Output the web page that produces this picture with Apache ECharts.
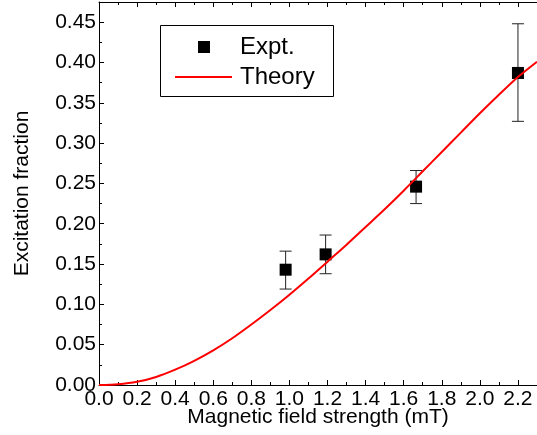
<!DOCTYPE html>
<html>
<head>
    <meta charset="utf-8">
    <title>Excitation fraction</title>
    <script src="https://cdn.jsdelivr.net/npm/echarts@6/dist/echarts.min.js"></script>
    <style>
        body { margin: 0; background: #fff; }
    </style>
</head>
<body>
<div id="main" style="width:537px;height:435px;"></div>
<script type="text/javascript">
    // measured points (mT, fraction) and their error bar ends
    var exptField = [0.98, 1.19, 1.665, 2.2];
    var exptValue = [0.143, 0.162, 0.246, 0.387];
    var exptLow   = [0.119, 0.138, 0.225, 0.327];
    var exptHigh  = [0.166, 0.186, 0.266, 0.448];

    // theory curve
    var theoryField = [0.0, 0.1, 0.2, 0.3, 0.4, 0.5, 0.6, 0.7, 0.8, 0.9, 1.0, 1.1,
                       1.2, 1.3, 1.4, 1.5, 1.6, 1.7, 1.8, 1.9, 2.0, 2.1, 2.2, 2.3];
    var theoryValue = [0.000, 0.001, 0.004, 0.010, 0.019, 0.030, 0.043, 0.058, 0.075, 0.093, 0.112, 0.132,
                       0.153, 0.174, 0.196, 0.218, 0.241, 0.265, 0.289, 0.313, 0.337, 0.360, 0.382, 0.401];

    var font = "'Liberation Sans', Arial, sans-serif";

    var chart = echarts.init(document.getElementById('main'));

    var exptData = [], errData = [], theoryData = [];
    for (var i = 0; i < exptField.length; i++) {
        exptData.push([exptField[i], exptValue[i]]);
        errData.push([exptField[i], exptLow[i], exptHigh[i]]);
    }
    for (var j = 0; j < theoryField.length; j++) {
        theoryData.push([theoryField[j], theoryValue[j]]);
    }

    var xCommon = {
        type: 'value',
        min: 0,
        max: 2.3,
        interval: 0.2,
        axisLine: { show: true, onZero: false, lineStyle: { color: '#000', width: 1 } },
        axisTick: { show: true, inside: true, length: 5, lineStyle: { color: '#000' } },
        minorTick: { show: true, splitNumber: 2, length: 3, lineStyle: { color: '#000' } },
        splitLine: { show: false }
    };

    var option = {
        animation: false,
        backgroundColor: '#fff',
        textStyle: { fontFamily: font },
        grid: { left: 99, right: 0, top: 2, bottom: 50, containLabel: false, outerBoundsMode: 'none' },
        legend: [
            {
                left: 198,
                top: 35,
                padding: 0,
                itemWidth: 12,
                itemHeight: 12,
                selectedMode: false,
                data: [{ name: 'Expt.', icon: 'rect' }],
                textStyle: { fontSize: 24, lineHeight: 24, color: '#000', fontFamily: font, padding: [0, 0, 0, 25] }
            },
            {
                left: 175,
                top: 65,
                padding: 0,
                itemWidth: 57,
                itemHeight: 2,
                selectedMode: false,
                data: [{ name: 'Theory', icon: 'rect' }],
                textStyle: { fontSize: 24, lineHeight: 24, color: '#000', fontFamily: font, padding: [0, 0, 0, 3] }
            }
        ],
        graphic: [{
            type: 'rect',
            shape: { x: 160.5, y: 25.5, width: 173, height: 71 },
            style: { fill: 'none', stroke: '#000', lineWidth: 1 },
            z: 0
        }],
        xAxis: [
            echarts.util.merge({
                position: 'bottom',
                name: 'Magnetic field strength (mT)',
                nameLocation: 'middle',
                nameGap: 22,
                nameMoveOverlap: false,
                nameTextStyle: { fontSize: 21, color: '#000', fontFamily: font },
                axisLabel: {
                    fontSize: 21, color: '#000', margin: 4, fontFamily: font,
                    showMaxLabel: false,
                    formatter: function (v) { return v.toFixed(1); }
                }
            }, xCommon, true),
            echarts.util.merge({
                position: 'top',
                axisLabel: { show: false }
            }, xCommon, true)
        ],
        yAxis: {
            type: 'value',
            min: 0,
            max: 0.475,
            interval: 0.05,
            name: 'Excitation fraction',
            nameLocation: 'middle',
            nameGap: 66,
            nameTextStyle: { fontSize: 21, color: '#000', fontFamily: font },
            axisLine: { show: true, lineStyle: { color: '#000', width: 1 } },
            axisTick: { show: true, inside: true, length: 5, lineStyle: { color: '#000' } },
            minorTick: { show: true, splitNumber: 2, length: 3, lineStyle: { color: '#000' } },
            splitLine: { show: false },
            axisLabel: {
                fontSize: 21, color: '#000', margin: 3, fontFamily: font,
                showMaxLabel: false,
                formatter: function (v) { return v.toFixed(2); }
            }
        },
        series: [
            {
                name: 'err',
                type: 'custom',
                z: 2,
                silent: true,
                data: errData,
                renderItem: function (params, api) {
                    var x = api.value(0);
                    var lo = api.coord([x, api.value(1)]);
                    var hi = api.coord([x, api.value(2)]);
                    var cap = 6;
                    var st = { stroke: '#222', lineWidth: 1 };
                    return {
                        type: 'group',
                        children: [
                            { type: 'line', shape: { x1: lo[0], y1: lo[1], x2: hi[0], y2: hi[1] }, style: st },
                            { type: 'line', shape: { x1: lo[0] - cap, y1: lo[1], x2: lo[0] + cap, y2: lo[1] }, style: st },
                            { type: 'line', shape: { x1: hi[0] - cap, y1: hi[1], x2: hi[0] + cap, y2: hi[1] }, style: st }
                        ]
                    };
                }
            },
            {
                name: 'Expt.',
                type: 'scatter',
                z: 3,
                symbol: 'rect',
                symbolSize: 12,
                itemStyle: { color: '#000', opacity: 1 },
                data: exptData
            },
            {
                name: 'Theory',
                type: 'line',
                z: 4,
                smooth: 0.3,
                showSymbol: false,
                symbol: 'none',
                color: '#ff0000',
                lineStyle: { color: '#ff0000', width: 2 },
                data: theoryData
            }
        ]
    };

    chart.setOption(option);
</script>
</body>
</html>
